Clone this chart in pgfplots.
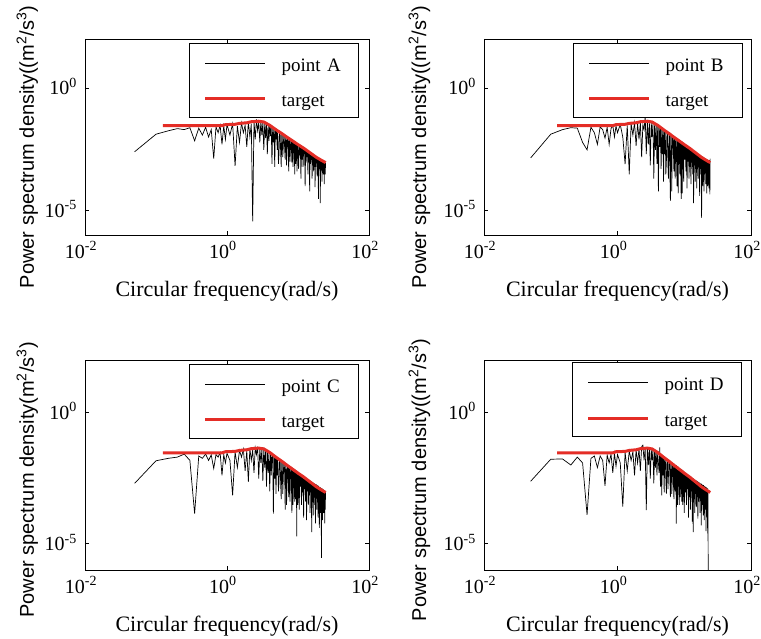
\documentclass[border=0pt]{standalone}
\usepackage{fontspec}
\setmainfont{Liberation Serif}
\setsansfont{Liberation Sans}
\usepackage{pgfplots}
\usepackage{pgfplotstable}
\pgfplotsset{compat=1.18}
\definecolor{tred}{RGB}{228,45,38}

\pgfplotsset{
    scale only axis,
    xmin=1e-2, xmax=1e2, ymin=1e-6, ymax=1e2,
    xtick={1e-2,1,1e2}, ytick={1e-5,1},
    xticklabels={10\textsuperscript{-2},10\textsuperscript{0},10\textsuperscript{2}},
    yticklabels={10\textsuperscript{-5},10\textsuperscript{0}},
    minor tick num=0, minor tick length=0pt,
    tick align=inside, major tick length=4pt,
    axis line style={line width=0.8pt, black},
    tick style={line width=0.6pt, black},
    tick label style={font=\fontsize{20}{20}\selectfont, inner sep=0pt},
    xticklabel style={anchor=base, yshift=-23pt, xshift=-4pt},
    yticklabel style={anchor=base east, xshift=-8pt, yshift=-7pt},
    xlabel style={font=\fontsize{22}{22}\selectfont, at={([yshift=-61pt]axis description cs:0.5,0)}, anchor=base},
    legend style={anchor=north east, draw=black, line width=0.8pt, fill=white,
      inner xsep=14pt, inner ysep=3pt, row sep=3pt, column sep=15pt,
      font=\fontsize{19}{19}\selectfont,
      nodes={inner sep=0pt, text height=25pt, text depth=7.5pt, text width=63pt, align=left, anchor=base west}},
    legend cell align=left,
    legend image code/.code={\draw[#1] (0pt,8pt) -- (60pt,8pt);},
}

\pgfplotstableread{
x y
0.125 0.029
0.85 0.029
0.95 0.032
1.3 0.033
1.5 0.036
1.9 0.038
2.2 0.042
2.8 0.044
3.3 0.041
4.0 0.030
5.0 0.019
6.0 0.0135
7.0 0.0098
8.0 0.0076
10.0 0.0049
12.0 0.0035
15.0 0.0022
18.0 0.0015
21.0 0.00115
24.5 0.00090
}\target

\begin{document}
\begin{tikzpicture}
\useasboundingbox (0,0) rectangle (761pt,638pt);

% ---------------- point A ----------------
\begin{loglogaxis}[anchor=south west, at={(85pt,403pt)}, width=284pt, height=196pt,
  legend style={at={(0.965,0.98)}},
  xlabel={Circular frequency(rad/s)},
  ylabel={Power spectrum density((m\textsuperscript{2}/s\textsuperscript{3})},
  ylabel style={font=\sffamily\fontsize{20}{20}\selectfont, at={([xshift=-51pt,yshift=-10pt]axis description cs:0,0.5)}, anchor=base}]
\addplot[black, line width=0.7pt] coordinates {
(0.05,2.5e-3)(0.1,1.3e-2)(0.15,1.8e-2)(0.2,2.2e-2)(0.25,2.0e-2)(0.3,2.4e-2)(0.35,7e-3)(0.4,2.3e-2)(0.45,1.2e-2)(0.5,2.5e-2)
(0.55,1.0e-2)(0.6,2.0e-2)(0.65,1.3e-3)(0.7,2.6e-2)(0.75,1.5e-2)(0.8,3.0e-2)(0.85,5e-3)(0.9,2.8e-2)(0.95,8e-3)(1.0,3.2e-2)
(1.1,1.2e-2)(1.2,3.5e-2)(1.3,6.6e-4)(1.4,2.8e-2)(1.5,6e-3)(1.6,3.8e-2)(1.7,1.5e-2)(1.8,3.0e-2)(1.9,4e-3)(2.0,4.2e-2)
(2.1,1.0e-2)(2.2,3.5e-2)(2.3,3.6e-6)(2.4,4.5e-2)(2.5,8e-3)(2.6,5.2e-2)(2.7,1.8e-2)(2.8,4.0e-2)(2.9,6e-3)(3.0,4.6e-2)
(3.1,1.2e-2)(3.2,3.8e-2)(3.3,3e-3)(3.4,3.5e-2)(3.5,9e-3)(3.6,3.9e-2)(3.7,2.0e-3)(3.8,3.0e-2)(3.9,7e-3)(4.0,3.2e-2)
(4.1,1.1e-2)(4.2,2.6e-2)(4.3,8e-4)(4.4,2.4e-2)(4.5,6e-3)(4.6,2.2e-2)(4.7,6e-4)(4.8,2.0e-2)(4.9,8e-3)
(5.0,1.9e-2)(5.1,3e-3)(5.2,1.5e-2)(5.3,8e-4)(5.4,2e-3)(5.5,1.4e-2)(5.6,1.3e-2)(5.7,2.5e-3)(5.8,6e-4)(5.9,1.25e-2)
(6.0,1.2e-2)(6.1,1.5e-3)(6.2,4e-3)(6.3,1.1e-2)(6.4,1.0e-2)(6.5,3e-3)(6.6,1.2e-3)(6.7,9.8e-3)(6.8,9.5e-3)(6.9,7e-4)
(7.0,5e-3)(7.1,9e-3)(7.2,8.5e-3)(7.3,2e-3)(7.4,4e-4)(7.5,8.2e-3)(7.6,8e-3)(7.7,1e-3)(7.8,2.5e-3)(7.9,7.5e-3)
(8.0,7e-3)(8.1,3e-3)(8.2,9e-4)(8.3,6.8e-3)(8.4,6.5e-3)(8.5,6e-4)(8.6,3e-3)(8.7,6.2e-3)(8.8,6e-3)(8.9,1.8e-3)
(9.0,3e-4)(9.1,5.8e-3)(9.2,5.5e-3)(9.3,8e-4)(9.4,1.5e-3)(9.5,5.2e-3)(9.6,5e-3)(9.7,4e-4)(9.8,2.5e-3)(9.9,4.9e-3)
(10.0,4.8e-3)(10.2,5e-4)(10.4,4.5e-3)(10.6,1.8e-3)(10.8,4.2e-3)(11.0,2e-4)
(11.2,4e-3)(11.4,1.2e-3)(11.6,3.8e-3)(11.8,6e-4)(12.0,3.4e-3)(12.2,2e-3)(12.4,3.2e-3)(12.6,1e-4)(12.8,3e-3)(13.0,9e-4)
(13.2,2.8e-3)(13.4,1.5e-3)(13.6,2.7e-3)(13.8,3e-4)(14.0,2.5e-3)(14.2,1.1e-3)(14.4,2.4e-3)(14.6,6e-5)(14.8,2.3e-3)(15.0,8e-4)
(15.2,2.2e-3)(15.4,1.4e-3)(15.6,2.1e-3)(15.8,2e-4)(16.0,2e-3)(16.2,7e-4)(16.4,1.9e-3)(16.6,4e-4)(16.8,1.8e-3)(17.0,1.1e-3)
(17.2,1.75e-3)(17.4,9e-5)(17.6,1.7e-3)(17.8,6e-4)(18.0,1.6e-3)(18.2,1e-3)(18.4,1.55e-3)(18.6,2.5e-4)(18.8,1.5e-3)(19.0,7e-4)
(19.2,1.45e-3)(19.4,3e-5)(19.6,1.4e-3)(19.8,5e-4)(20.0,1.3e-3)(20.2,9e-4)(20.4,1.25e-3)(20.6,2e-5)(20.8,1.2e-3)(21.0,4e-4)
(21.2,1.15e-3)(21.4,8e-4)(21.6,1.1e-3)(21.8,1.5e-4)(22.0,1.08e-3)(22.2,6e-4)(22.4,1.05e-3)(22.6,3e-4)(22.8,1.0e-3)(23.0,7e-4)
(23.2,9.8e-4)(23.4,1.2e-4)(23.6,9.5e-4)(23.8,5e-4)(24.0,9.2e-4)(24.2,3e-4)(24.4,8.5e-4)
};
\addlegendentry{point A}
\addplot[tred, line width=3pt] table[x=x, y=y] {\target};
\addlegendentry{target}
\end{loglogaxis}

% ---------------- point B ----------------
\begin{loglogaxis}[anchor=south west, at={(484pt,403pt)}, width=267pt, height=196pt,
  legend style={at={(0.970,0.98)}},
  xlabel={Circular frequency(rad/s)},
  ylabel={Power spectrum density((m\textsuperscript{2}/s\textsuperscript{3})},
  ylabel style={font=\sffamily\fontsize{20}{20}\selectfont, at={([xshift=-58pt,yshift=-10pt]axis description cs:0,0.5)}, anchor=base}]
\addplot[black, line width=0.7pt] coordinates {
(0.05,1.4e-3)(0.1,1.3e-2)(0.15,2.0e-2)(0.2,2.4e-2)(0.25,2.3e-2)(0.3,6e-3)(0.35,3.0e-3)(0.4,2.5e-2)(0.45,1.5e-2)(0.5,5e-3)
(0.55,2.6e-2)(0.6,2.0e-2)(0.65,9e-3)(0.7,2.5e-2)(0.75,5e-3)(0.8,2.2e-2)(0.85,3.0e-2)(0.9,1.0e-2)(0.95,2.8e-2)(1.0,1.5e-2)
(1.1,3.2e-2)(1.2,1.0e-2)(1.3,7.8e-4)(1.4,3.0e-2)(1.5,3e-4)(1.6,3.5e-2)(1.7,1.2e-2)(1.8,3.8e-2)(1.9,4.4e-3)(2.0,3.6e-2)
(2.1,8e-3)(2.2,4.0e-2)(2.3,1.5e-3)(2.4,3.2e-2)(2.5,2.0e-2)(2.6,6.9e-2)(2.7,2e-3)(2.8,4.5e-2)(2.9,5e-3)(3.0,4.2e-2)
(3.1,7e-4)(3.2,4.0e-2)(3.3,1e-2)(3.4,3.6e-2)(3.5,2e-4)(3.6,3.4e-2)(3.7,3e-3)(3.8,3.0e-2)(3.9,8e-4)(4.0,2.8e-2)
(4.1,6e-5)(4.2,2.6e-2)(4.3,4e-3)(4.4,2.4e-2)(4.5,5e-4)(4.6,2.2e-2)(4.7,2e-3)(4.8,2.0e-2)(4.9,1.5e-4)
(5.0,1.9e-2)(5.1,2e-3)(5.2,1.6e-2)(5.3,3e-4)(5.4,1e-3)(5.5,1.5e-2)(5.6,1.4e-2)(5.7,8e-4)(5.8,2e-4)(5.9,1.35e-2)
(6.0,1.3e-2)(6.1,4e-4)(6.2,2.5e-5)(6.3,1.2e-2)(6.4,1.1e-2)(6.5,6e-5)(6.6,3e-3)(6.7,1.05e-2)(6.8,1.0e-2)(6.9,2e-3)
(7.0,4e-4)(7.1,9.5e-3)(7.2,9e-3)(7.3,2e-4)(7.4,1.5e-3)(7.5,8.8e-3)(7.6,8.5e-3)(7.7,6e-4)(7.8,1e-4)(7.9,8e-3)
(8.0,7.5e-3)(8.1,5e-5)(8.2,2e-3)(8.3,7.2e-3)(8.4,7e-3)(8.5,1e-3)(8.6,3e-4)(8.7,6.8e-3)(8.8,6.5e-3)(8.9,2e-4)
(9.0,3e-5)(9.1,6.2e-3)(9.2,6e-3)(9.3,5e-5)(9.4,8e-4)(9.5,5.8e-3)(9.6,5.5e-3)(9.7,6e-4)(9.8,1.5e-4)(9.9,5.2e-3)
(10.0,5e-3)(10.2,1.2e-3)(10.4,4.6e-3)(10.6,4e-4)(10.8,4.3e-3)(11.0,8e-5)
(11.2,4e-3)(11.4,1e-3)(11.6,3.8e-3)(11.8,2e-4)(12.0,3.5e-3)(12.2,6e-4)(12.4,3.3e-3)(12.6,1.2e-4)(12.8,3.1e-3)(13.0,9e-4)
(13.2,2.9e-3)(13.4,3e-4)(13.6,2.8e-3)(13.8,2e-5)(14.0,2.6e-3)(14.2,7e-4)(14.4,2.5e-3)(14.6,1.5e-4)(14.8,2.4e-3)(15.0,5e-4)
(15.2,2.3e-3)(15.4,8e-5)(15.6,2.2e-3)(15.8,1e-3)(16.0,2.1e-3)(16.2,2e-4)(16.4,2e-3)(16.6,6e-4)(16.8,1.9e-3)(17.0,4e-5)
(17.2,1.8e-3)(17.4,3e-4)(17.6,1.75e-3)(17.8,8e-4)(18.0,1.7e-3)(18.2,5e-6)(18.4,1.6e-3)(18.6,4e-4)(18.8,1.55e-3)(19.0,1e-4)
(19.2,1.5e-3)(19.4,7e-4)(19.6,1.45e-3)(19.8,6e-5)(20.0,1.4e-3)(20.2,3e-4)(20.4,1.35e-3)(20.6,9e-4)(20.8,1.3e-3)(21.0,1.2e-4)
(21.2,1.28e-3)(21.4,5e-4)(21.6,1.25e-3)(21.8,5e-5)(22.0,1.2e-3)(22.2,3e-4)(22.4,1.18e-3)(22.6,1e-4)(22.8,1.15e-3)(23.0,6e-4)
(23.2,1.12e-3)(23.4,8e-5)(23.6,1.1e-3)(23.8,4e-4)(24.0,1.05e-3)(24.2,4.5e-5)(24.4,1.3e-3)
};
\addlegendentry{point B}
\addplot[tred, line width=3pt] table[x=x, y=y] {\target};
\addlegendentry{target}
\end{loglogaxis}

% ---------------- point C ----------------
\begin{loglogaxis}[anchor=south west, at={(85pt,68pt)}, width=284pt, height=210pt,
  legend style={at={(0.965,0.981)}},
  xlabel={Circular frequency(rad/s)},
  ylabel={Power spectrum density(m\textsuperscript{2}/s\textsuperscript{3})},
  ylabel style={font=\sffamily\fontsize{20}{20}\selectfont, at={([xshift=-51pt,yshift=-15pt]axis description cs:0,0.5)}, anchor=base}]
\addplot[black, line width=0.7pt] coordinates {
(0.05,2.0e-3)(0.1,1.45e-2)(0.15,1.8e-2)(0.2,2.0e-2)(0.25,2.6e-2)(0.3,1.5e-2)(0.35,1.4e-4)(0.4,2.2e-2)(0.45,1.8e-2)(0.5,2.6e-2)
(0.55,1.5e-2)(0.6,2.4e-2)(0.65,7.4e-3)(0.7,2.5e-2)(0.75,2.0e-2)(0.8,3.0e-2)(0.85,4e-3)(0.9,2.5e-2)(0.95,1.2e-2)(1.0,2.8e-2)
(1.1,1.5e-2)(1.2,7e-4)(1.3,3.2e-2)(1.4,8e-3)(1.5,3.6e-2)(1.6,2e-2)(1.7,4.0e-2)(1.8,6e-3)(1.9,3.5e-2)(2.0,2.3e-3)
(2.1,4.2e-2)(2.2,1.5e-2)(2.3,3.8e-2)(2.4,5e-3)(2.5,4.5e-2)(2.6,2.5e-2)(2.7,5.0e-2)(2.8,3e-3)(2.9,4.4e-2)(3.0,1.2e-2)
(3.1,4.0e-2)(3.2,2.5e-3)(3.3,4.6e-2)(3.4,8e-3)(3.5,3.8e-2)(3.6,1.5e-3)(3.7,3.5e-2)(3.8,5e-3)(3.9,3.2e-2)(4.0,1e-3)
(4.1,3.0e-2)(4.2,4e-3)(4.3,2.8e-2)(4.4,2.6e-2)(4.5,1.4e-4)(4.6,2.4e-2)(4.7,3e-3)(4.8,2.2e-2)(4.9,8e-4)
(5.0,2.0e-2)(5.1,4e-3)(5.2,1.7e-2)(5.3,1e-3)(5.4,2e-3)(5.5,1.6e-2)(5.6,1.5e-2)(5.7,2e-3)(5.8,5e-4)(5.9,1.4e-2)
(6.0,1.3e-2)(6.1,8e-4)(6.2,3e-3)(6.3,1.25e-2)(6.4,1.2e-2)(6.5,4e-3)(6.6,2e-4)(6.7,1.1e-2)(6.8,1.05e-2)(6.9,3e-4)
(7.0,1.5e-3)(7.1,1.0e-2)(7.2,9.5e-3)(7.3,2.5e-3)(7.4,6e-4)(7.5,9e-3)(7.6,8.5e-3)(7.7,4e-4)(7.8,2.5e-3)(7.9,8.2e-3)
(8.0,7.8e-3)(8.1,1.5e-3)(8.2,1.5e-4)(8.3,7.4e-3)(8.4,7e-3)(8.5,3e-4)(8.6,1e-3)(8.7,6.8e-3)(8.8,6.5e-3)(8.9,1e-3)
(9.0,4e-4)(9.1,6.3e-3)(9.2,6e-3)(9.3,5e-4)(9.4,2e-3)(9.5,5.8e-3)(9.6,1.9e-5)(9.7,5.6e-3)(9.8,5.5e-3)(9.9,3e-4)
(10.0,7e-4)(10.2,5e-3)(10.4,2e-4)(10.6,4.6e-3)(10.8,1.5e-3)(11.0,4.3e-3)
(11.2,3e-4)(11.4,4e-3)(11.6,9e-4)(11.8,3.8e-3)(12.0,1e-4)(12.2,3.6e-3)(12.4,1.2e-3)(12.6,3.4e-3)(12.8,4e-4)(13.0,3.2e-3)
(13.2,8e-5)(13.4,3e-3)(13.6,1e-3)(13.8,2.8e-3)(14.0,3e-4)(14.2,2.7e-3)(14.4,7e-4)(14.6,2.6e-3)(14.8,1.5e-4)(15.0,2.5e-3)
(15.2,9e-4)(15.4,2.4e-3)(15.6,2.8e-5)(15.8,2.3e-3)(16.0,5e-4)(16.2,2.2e-3)(16.4,1.2e-4)(16.6,2.1e-3)(16.8,8e-4)(17.0,2e-3)
(17.2,3e-4)(17.4,1.9e-3)(17.6,6e-5)(17.8,1.85e-3)(18.0,7e-4)(18.2,1.8e-3)(18.4,2e-4)(18.6,1.7e-3)(18.8,9e-4)(19.0,1.65e-3)
(19.2,1e-4)(19.4,1.6e-3)(19.6,4e-4)(19.8,1.5e-3)(20.0,4e-5)(20.2,1.45e-3)(20.4,6e-4)(20.6,1.4e-3)(20.8,1.5e-4)(21.0,1.35e-3)
(21.2,5e-4)(21.4,2.9e-6)(21.6,1.3e-3)(21.8,3e-4)(22.0,1.25e-3)(22.2,8e-5)(22.4,1.2e-3)(22.6,5e-4)(22.8,1.15e-3)(23.0,1.5e-4)
(23.2,1.1e-3)(23.4,4e-4)(23.6,1.05e-3)(23.8,6e-5)(24.0,1.0e-3)(24.2,2e-4)(24.4,9e-4)
};
\addlegendentry{point C}
\addplot[tred, line width=3pt] table[x=x, y=y] {\target};
\addlegendentry{target}
\end{loglogaxis}

% ---------------- point D ----------------
\begin{loglogaxis}[anchor=south west, at={(484pt,68pt)}, width=267pt, height=210pt,
  legend style={at={(0.966,0.99)}},
  xlabel={Circular frequency(rad/s)},
  ylabel={Power spectrum density((m\textsuperscript{2}/s\textsuperscript{3})},
  ylabel style={font=\sffamily\fontsize{20}{20}\selectfont, at={([xshift=-58pt,yshift=-15pt]axis description cs:0,0.5)}, anchor=base}]
\addplot[black, line width=0.7pt] coordinates {
(0.05,2.4e-3)(0.1,1.66e-2)(0.15,1.7e-2)(0.2,1.0e-2)(0.25,2.0e-2)(0.3,1.2e-2)(0.35,1.26e-4)(0.4,1.8e-2)(0.45,2.2e-2)(0.5,8e-3)
(0.55,2.2e-2)(0.6,1.5e-2)(0.65,1.6e-3)(0.7,2.4e-2)(0.75,1.2e-2)(0.8,2.6e-2)(0.85,5e-3)(0.9,2.8e-2)(0.95,9e-3)(1.0,2.5e-2)
(1.1,1.2e-2)(1.2,2.6e-4)(1.3,3.0e-2)(1.4,6e-3)(1.5,3.4e-2)(1.6,1.5e-2)(1.7,3.2e-2)(1.8,4e-3)(1.9,3.8e-2)(2.0,1.2e-2)
(2.1,4.2e-2)(2.2,6e-3)(2.3,5.0e-2)(2.4,5.7e-2)(2.5,1.5e-2)(2.6,4.5e-2)(2.7,1.9e-4)(2.8,4.8e-2)(2.9,1e-2)(3.0,4.4e-2)
(3.1,3e-3)(3.2,4.0e-2)(3.3,1.5e-2)(3.4,3.8e-2)(3.5,2e-3)(3.6,3.6e-2)(3.7,8e-3)(3.8,3.4e-2)(3.9,4e-3)(4.0,3.0e-2)
(4.1,1.2e-2)(4.2,5e-3)(4.3,4.7e-2)(4.4,1.5e-3)(4.5,2.6e-2)(4.6,7e-4)(4.7,2.4e-2)(4.8,4e-3)(4.9,2.2e-2)
(5.0,9e-4)(5.1,1.9e-2)(5.2,1.8e-2)(5.3,3e-3)(5.4,8e-4)(5.5,1.7e-2)(5.6,1.6e-2)(5.7,1.2e-3)(5.8,4e-3)(5.9,1.5e-2)
(6.0,1.4e-2)(6.1,3e-3)(6.2,6e-4)(6.3,1.3e-2)(6.4,1.2e-2)(6.5,8e-4)(6.6,2e-3)(6.7,1.15e-2)(6.8,1.1e-2)(6.9,2e-3)
(7.0,5e-4)(7.1,1.05e-2)(7.2,1.0e-2)(7.3,1e-3)(7.4,3e-3)(7.5,9.5e-3)(7.6,5.9e-5)(7.7,9e-3)(7.8,8.5e-3)(7.9,3e-4)
(8.0,1.2e-3)(8.1,8e-3)(8.2,7.5e-3)(8.3,1.5e-3)(8.4,3e-4)(8.5,7.2e-3)(8.6,7e-3)(8.7,6e-4)(8.8,2e-3)(8.9,6.7e-3)
(9.0,6.5e-3)(9.1,1e-3)(9.2,4e-4)(9.3,6.2e-3)(9.4,6e-3)(9.5,3e-4)(9.6,1.5e-3)(9.7,5.7e-3)(9.8,5.5e-3)(9.9,1e-3)
(10.0,1.5e-4)(10.2,5e-3)(10.4,9e-4)(10.6,4.7e-3)(10.8,3e-4)(11.0,4.4e-3)
(11.2,1.2e-3)(11.4,4.1e-3)(11.6,1e-4)(11.8,3.9e-3)(12.0,6e-4)(12.2,3.7e-3)(12.4,2e-4)(12.6,3.5e-3)(12.8,1e-3)(13.0,3.3e-3)
(13.2,7e-5)(13.4,3.1e-3)(13.6,2.8e-5)(13.8,3e-3)(14.0,5e-4)(14.2,2.8e-3)(14.4,1.5e-4)(14.6,2.7e-3)(14.8,8e-4)(15.0,2.6e-3)
(15.2,2.5e-4)(15.4,2.5e-3)(15.6,6e-4)(15.8,2.4e-3)(16.0,9e-5)(16.2,2.3e-3)(16.4,4e-4)(16.6,2.2e-3)(16.8,1e-3)(17.0,2.1e-3)
(17.2,1.5e-4)(17.4,2e-3)(17.6,6e-4)(17.8,1.95e-3)(18.0,5e-5)(18.2,1.9e-3)(18.4,3e-4)(18.6,1.8e-3)(18.8,7e-4)(19.0,1.75e-3)
(19.2,1.2e-4)(19.4,1.7e-3)(19.6,4e-4)(19.8,1.6e-3)(20.0,8e-5)(20.2,1.55e-3)(20.4,5e-4)(20.6,1.5e-3)(20.8,2e-4)(21.0,1.45e-3)
(21.2,3e-5)(21.4,1.4e-3)(21.6,4e-4)(21.8,1.35e-3)(22.0,1e-4)(22.2,1.3e-3)(22.4,2.5e-5)(22.6,1.25e-3)(22.8,5e-6)(23.0,1e-9)
};
\addlegendentry{point D}
\addplot[tred, line width=3pt] table[x=x, y=y] {\target};
\addlegendentry{target}
\end{loglogaxis}
\end{tikzpicture}
\end{document}
